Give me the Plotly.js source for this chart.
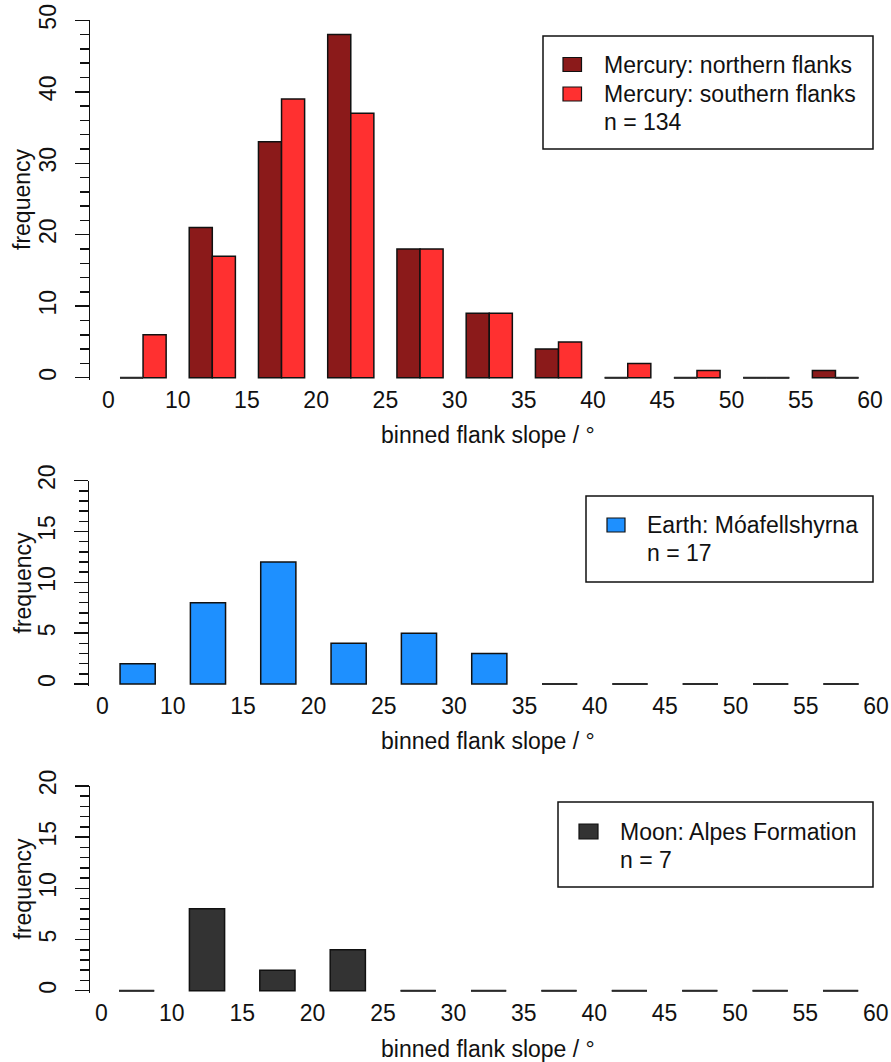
<!DOCTYPE html>
<html><head><meta charset="utf-8">
<script src="https://cdn.plot.ly/plotly-3.0.1.min.js"></script>
<style>html,body{margin:0;padding:0;background:#fff}</style>
</head><body><div id="chart" style="width:891px;height:1062px"></div>
<script>
// ---- data ----
const binLabels = ['0','10','15','20','25','30','35','40','45','50','55','60'];
const mercuryNorth = [0,21,33,48,18,9,4,0,0,0,1];
const mercurySouth = [6,17,39,37,18,9,5,2,1,0,0];
const earthMoafell = [2,8,12,4,5,3,0,0,0,0,0];
const moonAlpes    = [0,8,2,4,0,0,0,0,0,0,0];
const seriesNames  = ['Mercury: northern flanks','Mercury: southern flanks','Earth: Móafellshyrna','Moon: Alpes Formation'];
const sampleSizes  = [134, 17, 7];

// ---- style ----
const COL = {north:'#8B1A1A', south:'#FF3030', earth:'#1E90FF', moon:'#333333'};
const INK = '#111111';
const FONT = 'Liberation Sans, Arial, Helvetica, sans-serif';
const FS = 23;
const W = 891, H = 1062;
const fx = px => px / W;
const fy = py => 1 - py / H;

function bars(vals, centers, color, xa, ya, name){
  return {type:'bar', x:centers, y:vals, width:1, name:name, xaxis:xa, yaxis:ya,
    marker:{color:color, line:{color:INK, width:1.5}}, showlegend:false, hoverinfo:'x+y', cliponaxis:false};
}
function zeroSegs(vals, centers, xa, ya){
  const x=[], y=[];
  vals.forEach((v,i)=>{ if(v===0){ x.push(centers[i]-0.5, centers[i]+0.5, null); y.push(0,0,null);} });
  return {type:'scatter', mode:'lines', x:x, y:y, xaxis:xa, yaxis:ya, line:{color:'#2a2a2a', width:2},
    showlegend:false, hoverinfo:'skip', cliponaxis:false};
}

const cN = mercuryNorth.map((_,i)=>1.5+3*i);
const cS = mercurySouth.map((_,i)=>2.5+3*i);
const cE = earthMoafell.map((_,i)=>1.5+2*i);
const cM = moonAlpes.map((_,i)=>1.5+2*i);

const data = [
  zeroSegs(mercuryNorth, cN, 'x','y'), zeroSegs(mercurySouth, cS, 'x','y'),
  bars(mercuryNorth, cN, COL.north, 'x','y', seriesNames[0]),
  bars(mercurySouth, cS, COL.south, 'x','y', seriesNames[1]),
  zeroSegs(earthMoafell, cE, 'x2','y2'),
  bars(earthMoafell, cE, COL.earth, 'x2','y2', seriesNames[2]),
  zeroSegs(moonAlpes, cM, 'x3','y3'),
  bars(moonAlpes, cM, COL.moon, 'x3','y3', seriesNames[3])
];

function xax(domain, range, anchor, tv){
  return {domain:domain, range:range, anchor:anchor, showline:false, showgrid:false, zeroline:false,
    ticks:'', tickmode:'array', tickvals:tv, ticktext:binLabels, ticklabelstandoff:4,
    tickfont:{family:FONT, size:FS, color:INK}, fixedrange:true};
}
function yax(domain, range, anchor, dt, mdt){
  return {domain:domain, range:range, anchor:anchor, showline:true, linecolor:INK, linewidth:1.5,
    showgrid:false, zeroline:false, ticks:'outside', ticklen:14, tickwidth:1.5, tickcolor:INK,
    tick0:0, dtick:dt, tickangle:-90, ticklabelstandoff:9,
    minor:{dtick:mdt, tick0:0, ticks:'outside', ticklen:9, tickwidth:1.5, tickcolor:INK, showgrid:false},
    tickfont:{family:FONT, size:FS, color:INK}, fixedrange:true};
}

const tv3 = binLabels.map((_,i)=>0.5+3*i);
const tv2 = binLabels.map((_,i)=>0.5+2*i);

// pixel geometry: value 0 / top value positions
const p1 = {y0:377.7, yt:20.3, top:50, lo:-0.3};
const p2 = {y0:684.0, yt:480.7, top:20, lo:-0.2};
const p3 = {y0:990.7, yt:786.0, top:20, lo:-0.2};
const bottomPx = p => p.y0 + (-p.lo) * (p.y0 - p.yt) / p.top;

const layout = {
  width:W, height:H, margin:{l:0,r:0,t:0,b:0}, paper_bgcolor:'#fff', plot_bgcolor:'rgba(0,0,0,0)',
  barmode:'overlay', showlegend:false, font:{family:FONT, size:FS, color:INK},
  xaxis:  xax([fx(90), fx(880)], [-0.299, 33.93], 'y', tv3),
  yaxis:  yax([fy(bottomPx(p1)), fy(p1.yt)], [p1.lo, p1.top], 'x', 10, 2),
  xaxis2: xax([fx(89), fx(880)], [0.117, 22.61], 'y2', tv2),
  yaxis2: yax([fy(bottomPx(p2)), fy(p2.yt)], [p2.lo, p2.top], 'x2', 5, 1),
  xaxis3: xax([fx(90), fx(880)], [0.176, 22.62], 'y3', tv2),
  yaxis3: yax([fy(bottomPx(p3)), fy(p3.yt)], [p3.lo, p3.top], 'x3', 5, 1),
  shapes:[], annotations:[]
};

function txt(t, xpx, ypx, opts){
  return Object.assign({text:t, xref:'paper', yref:'paper', x:fx(xpx), y:fy(ypx), showarrow:false,
    xanchor:'left', yanchor:'middle', font:{family:FONT, size:FS, color:INK}}, opts||{});
}
function box(x0,y0,x1,y1,fill,lw){
  return {type:'rect', xref:'paper', yref:'paper', x0:fx(x0), x1:fx(x1), y0:fy(y1), y1:fy(y0),
    line:{color:INK, width:lw}, fillcolor:fill||'rgba(0,0,0,0)'};
}

// axis titles
[[199, 435],[582.5, 741],[888.5, 1049]].forEach(([yc, yt])=>{
  layout.annotations.push(txt('frequency', 22, yc, {xanchor:'center', textangle:-90}));
  layout.annotations.push(txt('binned flank slope / °', 488, yt, {xanchor:'center'}));
});

// legends
layout.shapes.push(box(543,36,873,149,'#fff',1.5));
layout.shapes.push(box(563,57.5,581.5,71.5,COL.north,1.2));
layout.shapes.push(box(563,87,581.5,101,COL.south,1.2));
layout.annotations.push(txt(seriesNames[0], 602, 65.3));
layout.annotations.push(txt(seriesNames[1], 602, 93.7));
layout.annotations.push(txt('n = '+sampleSizes[0], 602, 122));

layout.shapes.push(box(586,496,873,582,'#fff',1.5));
layout.shapes.push(box(607,518,625,532,COL.earth,1.2));
layout.annotations.push(txt(seriesNames[2], 645, 524.7));
layout.annotations.push(txt('n = '+sampleSizes[1], 645, 553));

layout.shapes.push(box(558,802,873,887,'#fff',1.5));
layout.shapes.push(box(579,824,598,839,COL.moon,1.2));
layout.annotations.push(txt(seriesNames[3], 618, 832));
layout.annotations.push(txt('n = '+sampleSizes[2], 618, 860));

Plotly.newPlot('chart', data, layout, {staticPlot:true, displayModeBar:false});
</script></body></html>
